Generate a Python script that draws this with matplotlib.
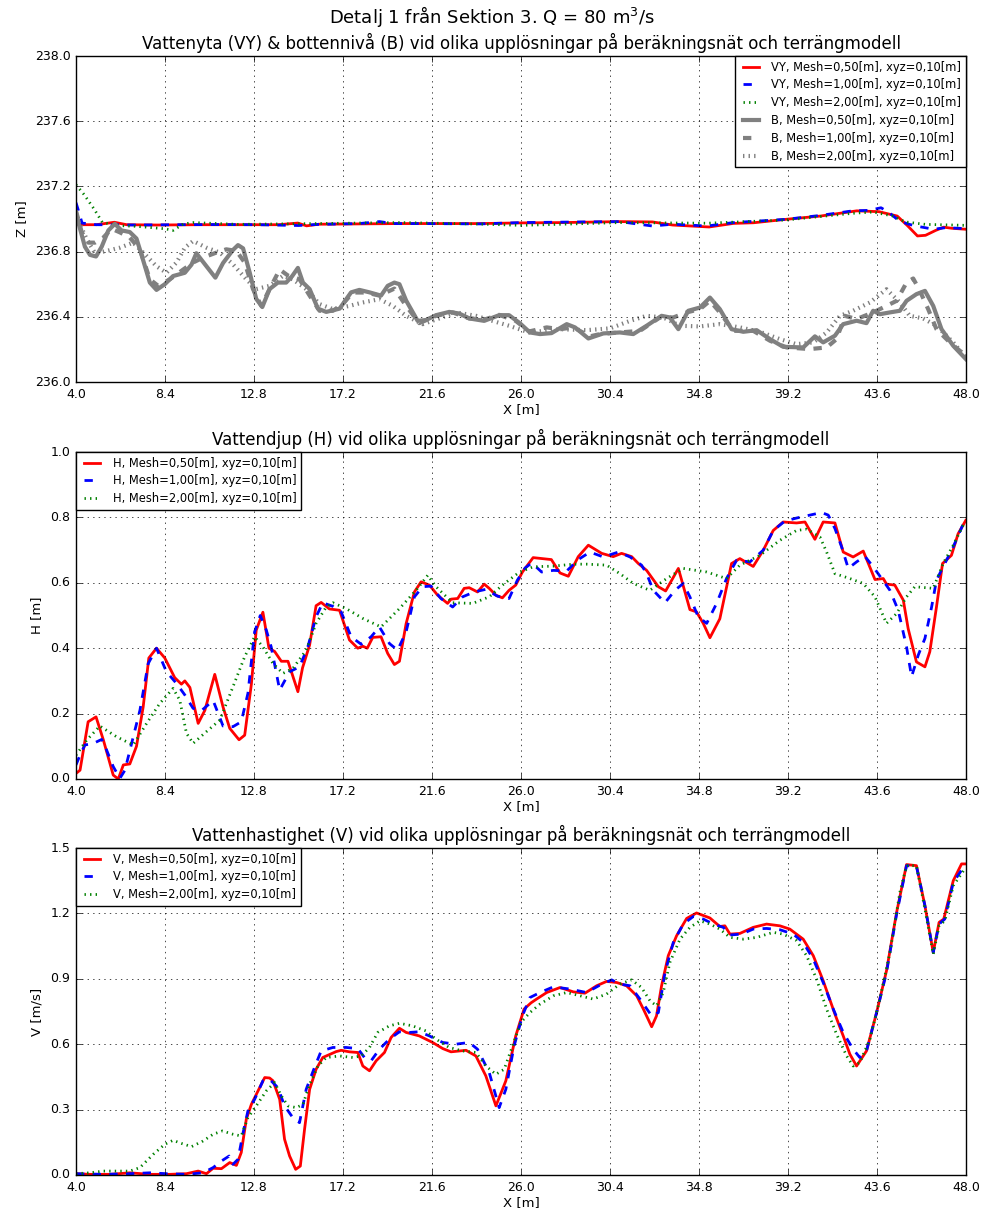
import numpy as np
import matplotlib
matplotlib.use("Agg")
import matplotlib.pyplot as plt
from matplotlib.ticker import FormatStrFormatter

# ---------------- data ----------------
# Water surface (VY)
vy05_x = [4.0, 4.3, 5.0, 5.9, 6.5, 8.0, 10.0, 12.0, 14.0, 14.97, 15.4, 16.0, 18.0, 20.0, 22.0, 24.0, 26.0, 28.0,
          30.9, 32.5, 33.5, 35.3, 36.5, 37.5, 39.1, 40.8, 42.6, 43.7, 44.2, 44.6, 45.1, 45.6, 46.0, 46.5, 46.9, 47.3, 48.0]
vy05_z = [236.97, 236.965, 236.965, 236.98, 236.965, 236.963, 236.965, 236.965, 236.965, 236.975, 236.958, 236.968,
          236.97, 236.972, 236.972, 236.972, 236.976, 236.978, 236.984, 236.982, 236.963, 236.951, 236.973, 236.977,
          236.998, 237.018, 237.05, 237.045, 237.03, 237.018, 236.96, 236.896, 236.9, 236.93, 236.95, 236.943, 236.937]

vy10_x = [4.0, 4.1, 4.3, 5.0, 7.0, 9.0, 11.0, 13.0, 15.0, 16.0, 18.0, 19.0, 19.7, 21.0, 24.0, 26.0, 29.0, 30.9,
          31.7, 32.5, 33.5, 35.2, 36.5, 39.1, 40.8, 42.4, 43.2, 43.8, 44.2, 44.7, 45.2, 45.7, 46.4, 47.0, 48.0]
vy10_z = [237.1, 237.06, 236.975, 236.965, 236.963, 236.965, 236.966, 236.965, 236.96, 236.967, 236.972, 236.984,
          236.972, 236.972, 236.970, 236.978, 236.982, 236.984, 236.97, 236.957, 236.968, 236.957, 236.978, 236.998,
          237.022, 237.05, 237.053, 237.069, 237.039, 236.988, 236.967, 236.953, 236.937, 236.947, 236.941]

vy20_x = [4.0, 4.4, 4.9, 5.3, 6.0, 7.0, 8.4, 8.8, 9.3, 9.8, 12.0, 16.0, 20.0, 24.0, 26.0, 30.9, 35.2, 39.1,
          42.4, 43.4, 44.4, 45.0, 46.0, 48.0]
vy20_z = [237.21, 237.15, 237.06, 236.98, 236.96, 236.955, 236.94, 236.93, 236.969, 236.978, 236.967, 236.972,
          236.978, 236.969, 236.961, 236.978, 236.974, 236.994, 237.035, 237.043, 237.018, 236.982, 236.967, 236.961]

# Bed level (B)
b05_x = [4.0, 4.2, 4.44, 4.69, 4.99, 5.27, 5.6, 5.92, 6.25, 6.66, 6.99, 7.24, 7.65, 7.98, 8.39, 8.8, 9.38, 9.71,
         9.95, 10.45, 10.89, 11.27, 11.76, 12.01, 12.26, 12.59, 12.91, 13.21, 13.57, 13.98, 14.39, 14.69, 14.97,
         15.22, 15.55, 15.96, 16.37, 17.03, 17.6, 18.01, 18.51, 19.08, 19.41, 19.74, 19.99, 20.32, 20.89, 21.3,
         21.8, 22.45, 22.95, 23.44, 24.18, 24.92, 25.41, 25.95, 26.44, 26.94, 27.51, 28.26, 28.67, 29.33, 30.07,
         30.89, 31.55, 32.21, 32.95, 33.36, 33.78, 34.27, 34.85, 35.34, 35.83, 36.41, 36.99, 37.65, 38.31, 38.96,
         39.95, 40.53, 40.94, 41.52, 41.93, 42.59, 43.08, 43.41, 43.74, 44.24, 44.73, 45.06, 45.55, 45.97, 46.38,
         46.79, 47.37, 47.99]
b05_z = [237.04, 236.94, 236.83, 236.78, 236.77, 236.83, 236.93, 236.97, 236.93, 236.92, 236.88, 236.78, 236.61,
         236.565, 236.6, 236.65, 236.67, 236.72, 236.79, 236.71, 236.64, 236.73, 236.81, 236.84, 236.82, 236.67,
         236.51, 236.46, 236.57, 236.61, 236.61, 236.65, 236.70, 236.61, 236.57, 236.45, 236.43, 236.45, 236.55,
         236.565, 236.55, 236.53, 236.59, 236.61, 236.6, 236.5, 236.375, 236.38, 236.41, 236.43, 236.42, 236.39,
         236.375, 236.41, 236.41, 236.36, 236.304, 236.294, 236.3, 236.355, 236.335, 236.267, 236.298, 236.304,
         236.294, 236.345, 236.406, 236.396, 236.324, 236.437, 236.457, 236.518, 236.447, 236.324, 236.308,
         236.318, 236.263, 236.216, 236.212, 236.28, 236.243, 236.284, 236.355, 236.376, 236.361, 236.437,
         236.416, 236.427, 236.437, 236.498, 236.539, 236.559, 236.467, 236.324, 236.222, 236.141]

b10_x = [4.0, 4.28, 4.61, 4.94, 5.35, 5.76, 6.17, 6.66, 7.16, 7.65, 8.06, 8.64, 9.3, 9.79, 10.28, 10.94, 11.43,
         11.93, 12.34, 12.75, 13.16, 13.57, 14.07, 14.48, 15.05, 15.55, 16.04, 16.7, 17.19, 17.68, 18.34, 19.0,
         19.74, 20.32, 20.97, 21.8, 22.62, 23.44, 24.26, 24.92, 25.74, 26.4, 27.27, 27.93, 28.59, 29.41, 29.9,
         30.89, 31.88, 32.87, 33.53, 34.19, 34.85, 35.34, 35.83, 36.49, 37.48, 38.31, 39.13, 40.28, 41.11, 41.6,
         42.01, 42.59, 43.41, 44.07, 44.57, 45.06, 45.39, 45.72, 46.13, 46.54, 47.2, 47.99]
b10_z = [237.05, 236.92, 236.855, 236.855, 236.886, 236.94, 236.918, 236.886, 236.814, 236.63, 236.59, 236.63,
         236.69, 236.733, 236.763, 236.794, 236.814, 236.804, 236.733, 236.57, 236.467, 236.57, 236.69, 236.653,
         236.63, 236.53, 236.437, 236.437, 236.478, 236.549, 236.549, 236.53, 236.573, 236.467, 236.361, 236.406,
         236.427, 236.39, 236.386, 236.412, 236.375, 236.31, 236.335, 236.324, 236.335, 236.28, 236.294, 236.304,
         236.314, 236.396, 236.396, 236.427, 236.447, 236.498, 236.427, 236.314, 236.314, 236.253, 236.212,
         236.202, 236.212, 236.263, 236.406, 236.386, 236.427, 236.467, 236.498, 236.61, 236.635, 236.559,
         236.447, 236.324, 236.243, 236.161]

b20_x = [4.0, 4.53, 4.94, 5.51, 6.17, 6.83, 7.49, 7.98, 8.47, 8.97, 9.38, 9.79, 10.45, 11.11, 11.76, 12.42,
         12.91, 13.57, 14.23, 14.72, 15.38, 16.04, 16.7, 17.52, 18.18, 19.0, 19.66, 20.32, 21.14, 21.96, 22.78,
         23.77, 24.59, 25.41, 26.4, 27.93, 29.24, 30.4, 31.39, 32.21, 33.03, 33.86, 34.85, 35.83, 36.82, 37.81,
         38.8, 39.62, 40.45, 41.11, 41.77, 42.42, 43.25, 44.07, 44.73, 45.22, 45.88, 46.54, 47.37, 47.99]
b20_z = [237.02, 236.876, 236.79, 236.804, 236.824, 236.855, 236.773, 236.71, 236.67, 236.733, 236.824, 236.865,
         236.824, 236.794, 236.722, 236.63, 236.57, 236.59, 236.651, 236.63, 236.57, 236.478, 236.447, 236.467,
         236.488, 236.508, 236.467, 236.406, 236.355, 236.39, 236.427, 236.406, 236.375, 236.345, 236.304,
         236.324, 236.318, 236.329, 236.375, 236.406, 236.396, 236.345, 236.341, 236.355, 236.335, 236.308,
         236.263, 236.232, 236.243, 236.304, 236.406, 236.437, 236.488, 236.569, 236.488, 236.406, 236.39,
         236.345, 236.243, 236.151]

# Water depth (H)
h05_x = [4.0, 4.2, 4.6, 4.99, 5.35, 5.84, 6.09, 6.34, 6.66, 6.99, 7.32, 7.6, 7.98, 8.39, 8.88, 9.21, 9.38, 9.63,
         10.04, 10.37, 10.86, 11.27, 11.6, 12.06, 12.34, 12.67, 12.91, 13.24, 13.54, 13.82, 14.15, 14.48, 14.97,
         15.2, 15.55, 15.87, 16.12, 16.53, 17.03, 17.52, 17.93, 18.18, 18.4, 18.67, 19.08, 19.41, 19.74, 19.99,
         20.32, 20.73, 21.06, 21.47, 21.88, 22.37, 22.54, 22.87, 23.19, 23.44, 23.85, 24.18, 24.43, 24.76, 25.08,
         25.41, 25.74, 26.07, 26.6, 27.5, 27.93, 28.34, 28.83, 29.33, 29.99, 30.56, 30.97, 31.47, 31.8, 32.21,
         32.79, 33.15, 33.78, 34.35, 34.68, 35.01, 35.34, 35.83, 36.41, 36.82, 37.48, 37.98, 38.47, 38.96, 39.62,
         40.04, 40.53, 40.94, 41.52, 41.93, 42.42, 42.92, 43.5, 43.91, 44.07, 44.48, 44.9, 45.14, 45.55, 45.97,
         46.21, 46.54, 46.84, 47.28, 47.61, 47.99]
h05_y = [0.017, 0.027, 0.175, 0.19, 0.12, 0.012, 0.0, 0.043, 0.046, 0.1, 0.22, 0.37, 0.40, 0.37, 0.31, 0.29,
         0.30, 0.28, 0.17, 0.21, 0.32, 0.22, 0.155, 0.12, 0.134, 0.29, 0.455, 0.51, 0.40, 0.39, 0.36, 0.36, 0.267,
         0.34, 0.41, 0.53, 0.54, 0.52, 0.516, 0.425, 0.40, 0.406, 0.40, 0.433, 0.435, 0.384, 0.35, 0.36, 0.475,
         0.572, 0.603, 0.593, 0.562, 0.537, 0.55, 0.552, 0.583, 0.585, 0.572, 0.596, 0.583, 0.562, 0.554, 0.577,
         0.593, 0.633, 0.677, 0.671, 0.63, 0.62, 0.68, 0.715, 0.69, 0.68, 0.69, 0.68, 0.659, 0.638, 0.588, 0.575,
         0.644, 0.518, 0.511, 0.476, 0.432, 0.49, 0.659, 0.674, 0.65, 0.70, 0.76, 0.786, 0.783, 0.786, 0.733,
         0.786, 0.783, 0.694, 0.679, 0.697, 0.61, 0.613, 0.596, 0.593, 0.547, 0.46, 0.358, 0.343, 0.389, 0.526,
         0.659, 0.684, 0.75, 0.791]

h10_x = [4.0, 4.2, 4.44, 4.86, 5.27, 5.51, 5.84, 6.17, 6.42, 6.75, 7.16, 7.57, 7.98, 8.47, 8.97, 9.38, 9.79,
         10.2, 10.78, 11.27, 11.76, 12.17, 12.5, 12.83, 13.11, 13.41, 13.65, 14.07, 14.56, 15.05, 15.46, 15.87,
         16.2, 16.7, 17.11, 17.6, 18.1, 18.59, 19.0, 19.5, 19.9, 20.32, 20.73, 21.14, 21.55, 22.04, 22.62, 23.11,
         23.69, 24.26, 24.84, 25.41, 25.82, 26.2, 26.53, 27.02, 27.6, 28.26, 28.83, 29.41, 30.07, 30.81, 31.39,
         31.96, 32.21, 32.54, 33.12, 33.61, 34.02, 34.35, 34.76, 35.18, 35.67, 36.16, 36.66, 37.32, 37.98, 38.47,
         39.05, 39.62, 40.28, 40.86, 41.19, 41.52, 41.85, 42.18, 42.59, 43.0, 43.41, 43.83, 44.24, 44.65, 45.06,
         45.31, 45.64, 45.97, 46.3, 46.54, 46.87, 47.37, 47.94]
h10_y = [0.043, 0.073, 0.104, 0.109, 0.121, 0.089, 0.038, 0.002, 0.027, 0.109, 0.21, 0.353, 0.40, 0.328, 0.292,
         0.257, 0.216, 0.209, 0.24, 0.162, 0.16, 0.175, 0.262, 0.45, 0.50, 0.455, 0.404, 0.272, 0.328, 0.343,
         0.404, 0.496, 0.539, 0.528, 0.511, 0.435, 0.412, 0.435, 0.465, 0.414, 0.394, 0.45, 0.557, 0.588, 0.59,
         0.552, 0.526, 0.557, 0.572, 0.58, 0.559, 0.552, 0.608, 0.645, 0.661, 0.633, 0.638, 0.636, 0.671, 0.694,
         0.679, 0.694, 0.679, 0.654, 0.628, 0.577, 0.539, 0.577, 0.598, 0.557, 0.496, 0.476, 0.537, 0.613, 0.669,
         0.664, 0.70, 0.76, 0.789, 0.798, 0.807, 0.815, 0.807, 0.766, 0.71, 0.644, 0.664, 0.681, 0.649, 0.613,
         0.577, 0.516, 0.404, 0.313, 0.379, 0.43, 0.526, 0.608, 0.649, 0.71, 0.791]

h20_x = [4.0, 4.53, 5.18, 6.01, 6.83, 7.49, 8.14, 8.8, 9.13, 9.46, 9.79, 10.45, 11.11, 11.76, 12.34, 12.83,
         13.24, 13.74, 14.23, 14.72, 15.38, 15.87, 16.37, 16.7, 17.36, 18.18, 19.08, 19.99, 20.81, 21.39, 21.8,
         22.62, 23.61, 24.43, 25.08, 25.93, 26.61, 27.6, 28.59, 29.25, 30.23, 30.89, 31.55, 32.37, 33.2, 34.02,
         35.18, 36.16, 36.82, 37.81, 38.8, 39.62, 40.12, 40.78, 41.11, 41.52, 42.26, 42.92, 43.5, 44.07, 44.57,
         45.06, 45.47, 46.38, 46.87, 47.37, 47.94]
h20_y = [0.073, 0.119, 0.162, 0.129, 0.104, 0.17, 0.231, 0.277, 0.241, 0.14, 0.109, 0.145, 0.18, 0.282, 0.374,
         0.435, 0.404, 0.353, 0.323, 0.338, 0.394, 0.476, 0.526, 0.539, 0.521, 0.491, 0.465, 0.521, 0.577, 0.623,
         0.588, 0.539, 0.537, 0.557, 0.593, 0.633, 0.649, 0.651, 0.657, 0.657, 0.654, 0.628, 0.598, 0.577, 0.613,
         0.644, 0.633, 0.613, 0.654, 0.684, 0.73, 0.76, 0.764, 0.74, 0.694, 0.628, 0.613, 0.598, 0.557, 0.476,
         0.506, 0.557, 0.588, 0.583, 0.659, 0.715, 0.786]

# Flow velocity (V)
v05_x = [4.0, 4.69, 5.68, 6.66, 7.65, 8.64, 9.46, 10.04, 10.45, 10.78, 11.19, 11.6, 11.93, 12.17, 12.42, 12.67,
         13.0, 13.33, 13.57, 13.74, 14.07, 14.31, 14.56, 14.86, 15.09, 15.3, 15.55, 15.87, 16.2, 16.86, 17.11,
         17.52, 17.93, 18.18, 18.51, 18.84, 19.25, 19.58, 19.99, 20.32, 20.97, 21.63, 22.13, 22.54, 23.28, 23.77,
         24.26, 24.76, 25.25, 25.74, 26.15, 26.5, 26.77, 27.27, 27.93, 28.59, 29.16, 29.74, 30.23, 30.73, 31.22,
         31.72, 32.05, 32.46, 32.7, 32.95, 33.28, 33.69, 34.19, 34.68, 35.34, 35.83, 36.08, 36.33, 36.82, 37.48,
         38.14, 38.8, 39.29, 39.95, 40.45, 40.94, 41.52, 41.93, 42.26, 42.59, 43.08, 43.58, 44.07, 44.57, 45.06,
         45.55, 45.97, 46.38, 46.67, 46.9, 47.37, 47.78, 47.99]
v05_y = [0.006, 0.003, 0.003, 0.01, 0.003, 0.003, 0.006, 0.018, 0.006, 0.031, 0.029, 0.057, 0.044, 0.103,
         0.256, 0.324, 0.386, 0.447, 0.445, 0.432, 0.347, 0.164, 0.087, 0.026, 0.041, 0.21, 0.393, 0.485, 0.539,
         0.566, 0.572, 0.565, 0.562, 0.50, 0.478, 0.524, 0.562, 0.631, 0.673, 0.654, 0.638, 0.608, 0.58, 0.565,
         0.572, 0.546, 0.455, 0.317, 0.432, 0.638, 0.761, 0.79, 0.807, 0.837, 0.86, 0.84, 0.834, 0.868, 0.888,
         0.883, 0.868, 0.822, 0.761, 0.68, 0.73, 0.868, 1.006, 1.097, 1.177, 1.202, 1.179, 1.14, 1.143, 1.105,
         1.108, 1.136, 1.151, 1.143, 1.128, 1.082, 1.006, 0.891, 0.738, 0.638, 0.554, 0.50, 0.569, 0.745, 0.937,
         1.205, 1.424, 1.419, 1.235, 1.021, 1.159, 1.174, 1.35, 1.427, 1.427]

v10_x = [4.0, 5.35, 6.66, 7.65, 8.47, 9.46, 10.28, 10.78, 11.19, 11.57, 11.76, 12.01, 12.26, 12.5, 12.83, 13.24,
         13.57, 13.98, 14.31, 14.72, 15.05, 15.38, 15.79, 16.12, 16.7, 17.36, 17.93, 18.26, 18.59, 19.0, 19.49,
         19.99, 20.48, 20.97, 21.47, 22.13, 22.78, 23.44, 23.85, 24.43, 24.92, 25.25, 25.66, 26.07, 26.44, 26.94,
         27.6, 28.42, 29.24, 29.9, 30.48, 30.89, 31.39, 31.88, 32.46, 32.79, 33.12, 33.53, 34.02, 34.52, 35.01,
         35.51, 36.0, 36.33, 36.9, 37.48, 38.14, 38.8, 39.46, 39.95, 40.45, 40.94, 41.44, 41.93, 42.42, 42.75,
         43.08, 43.58, 44.07, 44.57, 45.06, 45.55, 45.97, 46.38, 46.67, 46.95, 47.37, 47.99]
v10_y = [0.006, 0.003, 0.006, 0.01, 0.006, 0.003, 0.01, 0.034, 0.064, 0.087, 0.049, 0.072, 0.194, 0.294, 0.347,
         0.432, 0.439, 0.401, 0.317, 0.263, 0.24, 0.393, 0.493, 0.569, 0.585, 0.585, 0.58, 0.539, 0.524, 0.577,
         0.623, 0.657, 0.654, 0.657, 0.638, 0.608, 0.60, 0.608, 0.577, 0.47, 0.309, 0.393, 0.592, 0.73, 0.814,
         0.837, 0.863, 0.853, 0.837, 0.871, 0.895, 0.876, 0.868, 0.807, 0.73, 0.745, 0.929, 1.067, 1.151, 1.186,
         1.174, 1.151, 1.136, 1.101, 1.105, 1.128, 1.131, 1.125, 1.105, 1.067, 0.99, 0.883, 0.761, 0.654, 0.577,
         0.539, 0.569, 0.745, 0.929, 1.197, 1.419, 1.416, 1.235, 1.021, 1.151, 1.174, 1.342, 1.427]

v20_x = [4.0, 4.69, 5.35, 6.66, 7.16, 7.82, 8.39, 8.8, 9.21, 9.71, 10.28, 10.78, 11.24, 11.76, 12.17, 12.5,
         12.91, 13.41, 13.82, 14.15, 14.48, 14.89, 15.22, 15.55, 15.96, 16.37, 17.03, 17.68, 18.1, 18.51, 18.92,
         19.49, 19.99, 20.64, 21.3, 21.8, 22.45, 23.11, 23.77, 24.26, 24.76, 25.17, 25.58, 25.99, 26.44, 26.94,
         27.6, 28.26, 28.92, 29.57, 30.23, 30.89, 31.47, 31.96, 32.38, 32.7, 33.03, 33.36, 33.86, 34.35, 34.85,
         35.34, 35.83, 36.33, 36.99, 37.65, 38.47, 38.96, 39.62, 40.12, 40.61, 41.11, 41.6, 42.1, 42.42, 42.75,
         43.25, 43.74, 44.24, 44.73, 45.06, 45.55, 45.97, 46.38, 46.67, 46.95, 47.37, 47.94]
v20_y = [0.006, 0.01, 0.018, 0.018, 0.034, 0.095, 0.141, 0.159, 0.145, 0.13, 0.156, 0.187, 0.202, 0.187,
         0.179, 0.263, 0.317, 0.386, 0.424, 0.363, 0.317, 0.309, 0.324, 0.416, 0.50, 0.539, 0.546, 0.539, 0.546,
         0.585, 0.654, 0.684, 0.696, 0.684, 0.661, 0.623, 0.585, 0.569, 0.562, 0.50, 0.462, 0.485, 0.592, 0.700,
         0.745, 0.784, 0.822, 0.837, 0.822, 0.807, 0.83, 0.876, 0.895, 0.86, 0.799, 0.776, 0.837, 0.975, 1.082,
         1.136, 1.166, 1.151, 1.128, 1.09, 1.082, 1.09, 1.113, 1.105, 1.075, 1.006, 0.899, 0.761, 0.646, 0.546,
         0.50, 0.516, 0.623, 0.807, 1.021, 1.296, 1.419, 1.419, 1.22, 1.013, 1.143, 1.166, 1.327, 1.404]

x_ticks = [4.0, 8.4, 12.8, 17.2, 21.6, 26.0, 30.4, 34.8, 39.2, 43.6, 48.0]
z_ticks = [236.0, 236.4, 236.8, 237.2, 237.6, 238.0]
h_ticks = [0.0, 0.2, 0.4, 0.6, 0.8, 1.0]
v_ticks = [0.0, 0.3, 0.6, 0.9, 1.2, 1.5]

mesh_labels = ["Mesh=0,50[m], xyz=0,10[m]", "Mesh=1,00[m], xyz=0,10[m]", "Mesh=2,00[m], xyz=0,10[m]"]

# ---------------- style ----------------
plt.style.use("classic")
plt.rcParams.update({
    "figure.facecolor": "white",
    "savefig.facecolor": "white",
    "font.family": "DejaVu Sans",
    "mathtext.fontset": "dejavusans",
    "xtick.labelsize": 9,
    "ytick.labelsize": 9,
    "axes.labelsize": 9.5,
})

fig = plt.figure(figsize=(9.84, 12.16), dpi=100)
left, width, height = 76 / 984, 890 / 984, 327 / 1216
ax1 = fig.add_axes([left, 1 - 382 / 1216, width, 326 / 1216])
ax2 = fig.add_axes([left, 1 - 779 / 1216, width, height])
ax3 = fig.add_axes([left, 1 - 1175 / 1216, width, height])

fig.suptitle("Detalj 1 från Sektion 3. Q = 80 m$^3$/s", fontsize=13, y=0.997)

red = dict(color="r", linestyle="-", linewidth=2)
blue = dict(color="b", linestyle="--", linewidth=2)
green = dict(color="g", linestyle=":", linewidth=2)
legend_kw = dict(fontsize=8.3, borderaxespad=0.0, labelspacing=0.42)

# Panel 1: water surface and bed level
ax1.plot(vy05_x, vy05_z, label="VY, " + mesh_labels[0], **red)
ax1.plot(vy10_x, vy10_z, label="VY, " + mesh_labels[1], **blue)
ax1.plot(vy20_x, vy20_z, label="VY, " + mesh_labels[2], **green)
ax1.plot(b05_x, b05_z, color="0.5", linestyle="-", linewidth=3, label="B, " + mesh_labels[0])
ax1.plot(b10_x, b10_z, color="0.5", linestyle="--", linewidth=3, label="B, " + mesh_labels[1])
ax1.plot(b20_x, b20_z, color="0.5", linestyle=":", linewidth=3, label="B, " + mesh_labels[2])
ax1.set_ylim(236.0, 238.0)
ax1.set_yticks(z_ticks)
ax1.set_ylabel("Z [m]")
ax1.set_title("Vattenyta (VY) & bottennivå (B) vid olika upplösningar på beräkningsnät och terrängmodell",
              fontsize=12)
ax1.legend(loc="upper right", **legend_kw)

# Panel 2: water depth
ax2.plot(h05_x, h05_y, label="H, " + mesh_labels[0], **red)
ax2.plot(h10_x, h10_y, label="H, " + mesh_labels[1], **blue)
ax2.plot(h20_x, h20_y, label="H, " + mesh_labels[2], **green)
ax2.set_ylim(0.0, 1.0)
ax2.set_yticks(h_ticks)
ax2.set_ylabel("H [m]")
ax2.set_title("Vattendjup (H) vid olika upplösningar på beräkningsnät och terrängmodell", fontsize=12)
ax2.legend(loc="upper left", **legend_kw)

# Panel 3: flow velocity
ax3.plot(v05_x, v05_y, label="V, " + mesh_labels[0], **red)
ax3.plot(v10_x, v10_y, label="V, " + mesh_labels[1], **blue)
ax3.plot(v20_x, v20_y, label="V, " + mesh_labels[2], **green)
ax3.set_ylim(0.0, 1.5)
ax3.set_yticks(v_ticks)
ax3.set_ylabel("V [m/s]")
ax3.set_title("Vattenhastighet (V) vid olika upplösningar på beräkningsnät och terrängmodell", fontsize=12)
ax3.legend(loc="upper left", **legend_kw)

for ax in (ax1, ax2, ax3):
    ax.set_xlim(4.0, 48.0)
    ax.set_xticks(x_ticks)
    ax.xaxis.set_major_formatter(FormatStrFormatter("%.1f"))
    ax.yaxis.set_major_formatter(FormatStrFormatter("%.1f"))
    ax.set_xlabel("X [m]", labelpad=2)
    ax.grid(True)

fig.savefig("out.png", dpi=100)
